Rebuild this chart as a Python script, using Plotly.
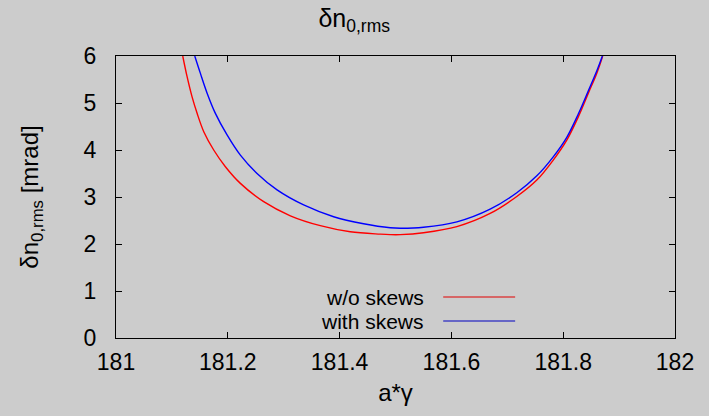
import plotly.graph_objects as go

# a*gamma values and delta n_0,rms [mrad]
x_red = [181.1194, 181.1272, 181.1361, 181.1451, 181.157, 181.1748, 181.1957, 181.2225,
         181.2642, 181.3119, 181.3655, 181.4191, 181.4727, 181.4906, 181.5085, 181.5501,
         181.6098, 181.6693, 181.717, 181.7528, 181.7825, 181.8064, 181.8272, 181.845,
         181.86, 181.8707]
y_red = [6.0, 5.56, 5.13, 4.78, 4.39, 4.0, 3.645, 3.29,
         2.90, 2.60, 2.39, 2.26, 2.21, 2.20, 2.20, 2.24,
         2.37, 2.65, 3.01, 3.36, 3.79, 4.21, 4.71, 5.21,
         5.63, 6.0]

x_blue = [181.1409, 181.151, 181.163, 181.1778, 181.1987, 181.2225, 181.2523, 181.2881,
          181.3357, 181.3893, 181.4429, 181.4906, 181.5085, 181.5501, 181.6098, 181.6693,
          181.717, 181.7528, 181.7825, 181.8064, 181.8272, 181.845, 181.86, 181.8701]
y_blue = [6.0, 5.63, 5.21, 4.78, 4.32, 3.89, 3.50, 3.15,
          2.83, 2.58, 2.43, 2.345, 2.335, 2.355, 2.47, 2.74,
          3.09, 3.45, 3.86, 4.27, 4.77, 5.26, 5.68, 6.0]

series_names = ["w/o skews", "with skews"]
x_ticks = [181, 181.2, 181.4, 181.6, 181.8, 182]
x_tick_labels = ["181", "181.2", "181.4", "181.6", "181.8", "182"]
y_ticks = [0, 1, 2, 3, 4, 5, 6]

FONT = "Liberation Sans, Arial, sans-serif"
BG = "#cccccc"

fig = go.Figure()
fig.add_trace(go.Scatter(x=x_red, y=y_red, mode="lines", name=series_names[0],
                         line=dict(color="#ff0000", width=1.4, shape="spline", smoothing=1.0),
                         showlegend=False))
fig.add_trace(go.Scatter(x=x_blue, y=y_blue, mode="lines", name=series_names[1],
                         line=dict(color="#0000ff", width=1.4, shape="spline", smoothing=1.0),
                         showlegend=False))

W, H = 709, 416
ml, mr, mt, mb = 115.5, 34, 56, 78
pw, ph = W - ml - mr, H - mt - mb

def px(xp):
    return (xp - ml) / pw

def py(yp):
    return (H - mb - yp) / ph

# legend (gnuplot style: text right-aligned, sample to the right)
legend_rows = [(series_names[0], "#e00000", 297), (series_names[1], "#0000c0", 321)]
for name, col, yp in legend_rows:
    fig.add_annotation(x=px(425), y=py(yp), xref="paper", yref="paper", text=name,
                       showarrow=False, xanchor="right", yanchor="middle",
                       borderpad=0,
                       font=dict(family=FONT, size=21, color="black"))
    fig.add_shape(type="line", xref="paper", yref="paper", x0=px(443), x1=px(515),
                  y0=py(yp), y1=py(yp), line=dict(color=col, width=1))

fig.update_layout(
    width=W, height=H,
    margin=dict(l=ml, r=mr, t=mt, b=mb, pad=0, autoexpand=False),
    paper_bgcolor=BG, plot_bgcolor=BG,
    font=dict(family=FONT, size=23, color="black"),
    title=dict(text="δn<sub>0,rms</sub>", x=px(395), xanchor="center",
               yref="container", y=1 - 18 / H, yanchor="middle",
               font=dict(family=FONT, size=25)),
    xaxis=dict(range=[181, 182], tickvals=x_ticks, ticktext=x_tick_labels,
               ticks="inside", ticklen=6, tickcolor="black", tickwidth=1,
               showline=True, linecolor="black", linewidth=1, mirror="ticks",
               showgrid=False, zeroline=False, tickfont=dict(size=23), automargin=False,
               ticklabelstandoff=3,
               title=dict(text="a*γ", standoff=10, font=dict(size=24))),
    yaxis=dict(range=[0, 6], tickvals=y_ticks,
               ticks="inside", ticklen=6, tickcolor="black", tickwidth=1,
               showline=True, linecolor="black", linewidth=1, mirror="ticks",
               showgrid=False, zeroline=False, tickfont=dict(size=23), automargin=False,
               ticklabelstandoff=14,
               title=dict(text="δn<sub>0,rms</sub> [mrad]", standoff=38, font=dict(size=24))),
)

fig.write_html("out.html", config={"displayModeBar": False},
               post_script="document.body.style.margin='0';document.body.style.background='#cccccc';")
